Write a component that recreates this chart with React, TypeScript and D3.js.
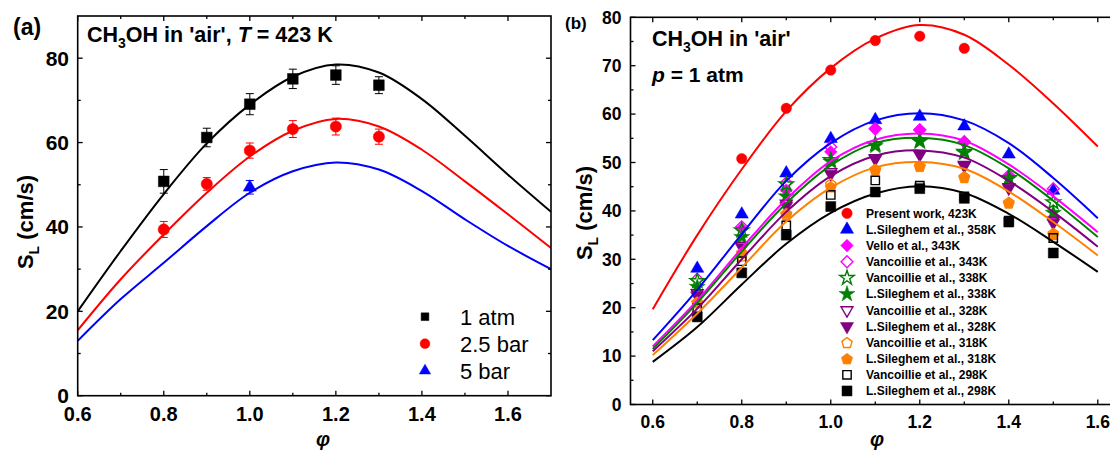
import React from "react";
import * as d3 from "d3";

// ---------- Panel (a) data ----------
const phiA_curve = [0.6, 0.7, 0.8, 0.9, 1.0, 1.1, 1.2, 1.3, 1.4, 1.5, 1.6, 1.7];
const curveA_1atm = [20.0, 34.3, 47.8, 59.8, 69.0, 75.6, 78.5, 76.6, 70.3, 61.6, 52.4, 43.6];
const curveA_25bar = [15.5, 27.6, 38.2, 48.1, 56.7, 62.8, 65.6, 63.8, 58.3, 50.8, 43.0, 35.0];
const curveA_5bar = [13.0, 22.9, 31.5, 40.2, 48.1, 53.2, 55.3, 53.6, 48.5, 41.8, 35.5, 30.0];

const phiA_pts = [0.8, 0.9, 1.0, 1.1, 1.2, 1.3];
const ptsA_1atm = [50.8, 61.2, 69.1, 75.1, 76.0, 73.6];
const errA_1atm = [2.8, 2.2, 2.5, 2.3, 2.2, 2.0];
const ptsA_25bar = [39.4, 50.2, 58.1, 63.2, 63.8, 61.4];
const errA_25bar = [1.9, 1.5, 1.8, 2.0, 2.0, 1.8];
const phiA_5bar = [1.0];
const ptsA_5bar = [49.4];
const errA_5bar = [1.6];
const legendA = ["1 atm", "2.5 bar", "5 bar"];

const xTicksA = [0.6, 0.8, 1.0, 1.2, 1.4, 1.6];
const yTicksA = [0, 20, 40, 60, 80];

// ---------- Panel (b) data ----------
const phiB_curve = [0.6, 0.7, 0.8, 0.9, 1.0, 1.1, 1.2, 1.3, 1.4, 1.5, 1.6];
const curveB_423 = [19.7, 35.0, 48.6, 60.6, 69.5, 75.6, 78.4, 76.4, 70.2, 62.2, 53.3];
const curveB_358 = [13.3, 23.7, 35.2, 46.2, 54.0, 58.7, 60.2, 58.7, 54.0, 46.8, 38.5];
const curveB_343 = [12.0, 21.5, 32.3, 42.4, 50.3, 54.7, 56.0, 54.5, 49.6, 43.0, 35.6];
const curveB_338 = [11.5, 21.0, 31.6, 41.6, 49.4, 54.0, 55.1, 53.6, 48.8, 42.1, 34.6];
const curveB_328 = [11.0, 19.8, 30.0, 39.8, 47.2, 51.4, 52.5, 51.0, 46.2, 39.8, 32.6];
const curveB_318 = [10.2, 18.8, 28.3, 37.8, 44.8, 49.0, 50.1, 48.7, 44.0, 37.7, 30.8];
const curveB_298 = [8.8, 16.0, 24.8, 33.2, 39.6, 43.6, 45.1, 43.7, 39.4, 33.6, 27.4];

const phiB_pts = [0.7, 0.8, 0.9, 1.0, 1.1, 1.2, 1.3, 1.4, 1.5];
const phiB_present = [0.8, 0.9, 1.0, 1.1, 1.2, 1.3];
const ptsB_present423 = [50.8, 61.2, 69.1, 75.2, 76.1, 73.6];
const ptsB_sil358 = [28.1, 39.3, 47.8, 54.9, 58.8, 59.5, 57.5, 51.7, 44.2];
const ptsB_vello343 = [23.3, 36.3, 44.3, 52.2, 56.9, 56.8, 54.2, 47.1, 38.6];
const ptsB_vanc343 = [25.9, 36.7, 45.8, 53.2, 57.0, 56.7, 54.3, 47.3, 44.6];
const ptsB_vanc338 = [25.5, 36.0, 45.5, 50.5, 53.8, 54.5, 52.2, 46.8, 41.8];
const ptsB_sil338 = [24.3, 34.6, 43.0, 50.2, 53.4, 54.3, 52.0, 46.6, 39.6];
const ptsB_vanc328 = [23.0, 32.8, 41.5, 48.0, 50.9, 51.8, 49.5, 44.9, 38.0];
const ptsB_sil328 = [22.4, 32.5, 41.0, 47.6, 50.7, 51.6, 49.3, 44.7, 37.5];
const ptsB_vanc318 = [21.0, 30.7, 39.2, 45.6, 48.6, 49.3, 47.1, 41.8, 35.4];
const ptsB_sil318 = [21.2, 31.4, 39.5, 45.0, 48.5, 49.2, 46.9, 41.6, 35.1];
const ptsB_vanc298 = [19.9, 29.6, 37.0, 43.3, 46.3, 45.2, 43.0, 38.0, 34.4];
const ptsB_sil298 = [18.1, 27.2, 35.0, 40.9, 43.9, 44.6, 42.6, 37.7, 31.3];

const legendB = [
  "Present work, 423K",
  "L.Sileghem et al., 358K",
  "Vello et al., 343K",
  "Vancoillie et al., 343K",
  "Vancoillie et al., 338K",
  "L.Sileghem et al., 338K",
  "Vancoillie et al., 328K",
  "L.Sileghem et al., 328K",
  "Vancoillie et al., 318K",
  "L.Sileghem et al., 318K",
  "Vancoillie et al., 298K",
  "L.Sileghem et al., 298K",
];

const xTicksB = [0.6, 0.8, 1.0, 1.2, 1.4, 1.6];
const yTicksB = [0, 10, 20, 30, 40, 50, 60, 70, 80];

// ---------- styling ----------
const FONT = "Arial, 'Liberation Sans', Helvetica, sans-serif";
const RED = "#ff0000";
const BLUE = "#0000ff";
const MAGENTA = "#ff00ff";
const GREEN = "#008000";
const PURPLE = "#800080";
const ORANGE = "#ff8000";
const BLACK = "#000000";

const symbolPentagon = {
  draw(ctx: any, size: number) {
    const r = Math.sqrt(size / (2.5 * Math.sin((2 * Math.PI) / 5)));
    for (let i = 0; i < 5; i++) {
      const a = -Math.PI / 2 + (i * 2 * Math.PI) / 5;
      const x = r * Math.cos(a);
      const y = r * Math.sin(a) + r * 0.1;
      if (i === 0) ctx.moveTo(x, y);
      else ctx.lineTo(x, y);
    }
    ctx.closePath();
  },
};
const symbolDiamondSq = {
  draw(ctx: any, size: number) {
    const h = Math.sqrt(size / 2);
    ctx.moveTo(0, -h);
    ctx.lineTo(h, 0);
    ctx.lineTo(0, h);
    ctx.lineTo(-h, 0);
    ctx.closePath();
  },
};
const symbolTriDown = {
  draw(ctx: any, size: number) {
    const s = Math.sqrt((size * 4) / Math.sqrt(3));
    const hgt = (s * Math.sqrt(3)) / 2;
    ctx.moveTo(-s / 2, -hgt / 3);
    ctx.lineTo(s / 2, -hgt / 3);
    ctx.lineTo(0, (2 * hgt) / 3);
    ctx.closePath();
  },
};
const symbolTriUp = {
  draw(ctx: any, size: number) {
    const s = Math.sqrt((size * 4) / Math.sqrt(3));
    const hgt = (s * Math.sqrt(3)) / 2;
    ctx.moveTo(-s / 2, hgt / 3);
    ctx.lineTo(s / 2, hgt / 3);
    ctx.lineTo(0, (-2 * hgt) / 3);
    ctx.closePath();
  },
};

function sym(type: any, size: number) {
  return d3.symbol().type(type).size(size)() as string;
}

type Marker = { type: any; size: number; color: string; filled: boolean };

function MarkerPath({ m, x, y }: { m: Marker; x: number; y: number }) {
  return (
    <path
      d={sym(m.type, m.size)}
      transform={`translate(${x},${y})`}
      fill={m.filled ? m.color : "none"}
      stroke={m.color}
      strokeWidth={m.filled ? 0.5 : 1.4}
    />
  );
}

// ---------- Panel A ----------
function PanelA() {
  const x = d3.scaleLinear().domain([0.6, 1.7]).range([77.7, 551]);
  const y = d3.scaleLinear().domain([0, 90]).range([395.7, 16]);
  const [x0, x1] = x.range();
  const [y0, y1] = y.range();
  const line = d3
    .line<number>()
    .x((_, i) => x(phiA_curve[i]))
    .y((d) => y(d))
    .curve(d3.curveCatmullRom.alpha(0.5));

  const xMinor = d3.range(0.7, 1.7, 0.2);
  const yMinor = d3.range(10, 90, 20);
  const tickMaj = 5;
  const tickMin = 3;

  const series = [
    { phi: phiA_pts, v: ptsA_1atm, e: errA_1atm, m: { type: d3.symbolSquare, size: 115, color: BLACK, filled: true } },
    { phi: phiA_pts, v: ptsA_25bar, e: errA_25bar, m: { type: d3.symbolCircle, size: 100, color: RED, filled: true } },
    { phi: phiA_5bar, v: ptsA_5bar, e: errA_5bar, m: { type: symbolTriUp, size: 75, color: BLUE, filled: true } },
  ];
  const legM: Marker[] = [
    { type: d3.symbolSquare, size: 60, color: BLACK, filled: true },
    { type: d3.symbolCircle, size: 75, color: RED, filled: true },
    { type: symbolTriUp, size: 55, color: BLUE, filled: true },
  ];

  return (
    <g>
      <defs>
        <clipPath id="clipA">
          <rect x={x0} y={y1} width={x1 - x0} height={y0 - y1} />
        </clipPath>
      </defs>
      <g clipPath="url(#clipA)">
        <path d={line(curveA_1atm) as string} fill="none" stroke={BLACK} strokeWidth={2} />
        <path d={line(curveA_25bar) as string} fill="none" stroke={RED} strokeWidth={2} />
        <path d={line(curveA_5bar) as string} fill="none" stroke={BLUE} strokeWidth={2} />
      </g>
      {series.map((s, si) => (
        <g key={si}>
          {s.phi.map((p, i) => (
            <g key={i}>
              <line x1={x(p)} x2={x(p)} y1={y(s.v[i] - s.e[i])} y2={y(s.v[i] + s.e[i])} stroke={s.m.color} strokeWidth={1} />
              <line x1={x(p) - 4} x2={x(p) + 4} y1={y(s.v[i] - s.e[i])} y2={y(s.v[i] - s.e[i])} stroke={s.m.color} strokeWidth={1} />
              <line x1={x(p) - 4} x2={x(p) + 4} y1={y(s.v[i] + s.e[i])} y2={y(s.v[i] + s.e[i])} stroke={s.m.color} strokeWidth={1} />
              <MarkerPath m={s.m as Marker} x={x(p)} y={y(s.v[i])} />
            </g>
          ))}
        </g>
      ))}
      <rect x={x0} y={y1} width={x1 - x0} height={y0 - y1} fill="none" stroke={BLACK} strokeWidth={1.6} />
      {xTicksA.map((t) => (
        <g key={"xt" + t}>
          <line x1={x(t)} x2={x(t)} y1={y0} y2={y0 - tickMaj} stroke={BLACK} strokeWidth={1.3} />
          <line x1={x(t)} x2={x(t)} y1={y1} y2={y1 + tickMaj} stroke={BLACK} strokeWidth={1.3} />
          <text x={x(t)} y={421} textAnchor="middle" fontFamily={FONT} fontWeight="bold" fontSize={20}>
            {t.toFixed(1)}
          </text>
        </g>
      ))}
      {xMinor.map((t) => (
        <g key={"xm" + t}>
          <line x1={x(t)} x2={x(t)} y1={y0} y2={y0 - tickMin} stroke={BLACK} strokeWidth={1.3} />
          <line x1={x(t)} x2={x(t)} y1={y1} y2={y1 + tickMin} stroke={BLACK} strokeWidth={1.3} />
        </g>
      ))}
      {yTicksA.map((t) => (
        <g key={"yt" + t}>
          <line x1={x0} x2={x0 + tickMaj} y1={y(t)} y2={y(t)} stroke={BLACK} strokeWidth={1.3} />
          <line x1={x1} x2={x1 - tickMaj} y1={y(t)} y2={y(t)} stroke={BLACK} strokeWidth={1.3} />
          <text x={69} y={y(t) + 7.5} textAnchor="end" fontFamily={FONT} fontWeight="bold" fontSize={21}>
            {t}
          </text>
        </g>
      ))}
      {yMinor.map((t) => (
        <g key={"ym" + t}>
          <line x1={x0} x2={x0 + tickMin} y1={y(t)} y2={y(t)} stroke={BLACK} strokeWidth={1.3} />
          <line x1={x1} x2={x1 - tickMin} y1={y(t)} y2={y(t)} stroke={BLACK} strokeWidth={1.3} />
        </g>
      ))}
      <text x={323} y={446} textAnchor="middle" fontFamily={FONT} fontStyle="italic" fontWeight="bold" fontSize={20}>
        φ
      </text>
      <text transform="translate(33,222) rotate(-90)" textAnchor="middle" fontFamily={FONT} fontWeight="bold" fontSize={22}>
        S<tspan fontSize={14} dy={6}>L</tspan>
        <tspan dy={-6}> (cm/s)</tspan>
      </text>
      <text x={13} y={35} fontFamily={FONT} fontWeight="bold" fontSize={23}>(a)</text>
      <text x={87} y={42} fontFamily={FONT} fontWeight="bold" fontSize={21.5}>
        CH<tspan fontSize={14} dy={6}>3</tspan>
        <tspan dy={-6}>OH in 'air', </tspan>
        <tspan fontStyle="italic">T</tspan>
        <tspan> = 423 K</tspan>
      </text>
      {legendA.map((lab, i) => (
        <g key={lab}>
          <MarkerPath m={legM[i]} x={425} y={316.7 + i * 27} />
          <text x={460} y={316.7 + i * 27 + 8} fontFamily={FONT} fontSize={22}>
            {lab}
          </text>
        </g>
      ))}
    </g>
  );
}

// ---------- Panel B ----------
function PanelB() {
  const x = d3.scaleLinear().domain([0.55, 1.7]).range([630.5, 1142.3]);
  const y = d3.scaleLinear().domain([0, 80]).range([404.5, 17.3]);
  const [x0, x1] = x.range();
  const [y0, y1] = y.range();
  const line = d3
    .line<number>()
    .x((_, i) => x(phiB_curve[i]))
    .y((d) => y(d))
    .curve(d3.curveCatmullRom.alpha(0.5));

  const xMinor = d3.range(0.7, 1.7, 0.2);
  const yMinor = d3.range(5, 80, 10);
  const tickMaj = 5;
  const tickMin = 3;

  const curves = [
    { v: curveB_423, c: RED },
    { v: curveB_358, c: BLUE },
    { v: curveB_343, c: MAGENTA },
    { v: curveB_338, c: GREEN },
    { v: curveB_328, c: PURPLE },
    { v: curveB_318, c: ORANGE },
    { v: curveB_298, c: BLACK },
  ];

  const markers: Marker[] = [
    { type: d3.symbolCircle, size: 85, color: RED, filled: true },
    { type: symbolTriUp, size: 75, color: BLUE, filled: true },
    { type: symbolDiamondSq, size: 80, color: MAGENTA, filled: true },
    { type: symbolDiamondSq, size: 70, color: MAGENTA, filled: false },
    { type: d3.symbolStar, size: 65, color: GREEN, filled: false },
    { type: d3.symbolStar, size: 80, color: GREEN, filled: true },
    { type: symbolTriDown, size: 62, color: PURPLE, filled: false },
    { type: symbolTriDown, size: 75, color: PURPLE, filled: true },
    { type: symbolPentagon, size: 70, color: ORANGE, filled: false },
    { type: symbolPentagon, size: 85, color: ORANGE, filled: true },
    { type: d3.symbolSquare, size: 70, color: BLACK, filled: false },
    { type: d3.symbolSquare, size: 100, color: BLACK, filled: true },
  ];

  const data = [
    { phi: phiB_present, v: ptsB_present423 },
    { phi: phiB_pts, v: ptsB_sil358 },
    { phi: phiB_pts, v: ptsB_vello343 },
    { phi: phiB_pts, v: ptsB_vanc343 },
    { phi: phiB_pts, v: ptsB_vanc338 },
    { phi: phiB_pts, v: ptsB_sil338 },
    { phi: phiB_pts, v: ptsB_vanc328 },
    { phi: phiB_pts, v: ptsB_sil328 },
    { phi: phiB_pts, v: ptsB_vanc318 },
    { phi: phiB_pts, v: ptsB_sil318 },
    { phi: phiB_pts, v: ptsB_vanc298 },
    { phi: phiB_pts, v: ptsB_sil298 },
  ];

  return (
    <g>
      {data.map((s, si) => (
        <g key={si}>
          {s.phi.map((p, i) => (
            <MarkerPath key={i} m={markers[si]} x={x(p)} y={y(s.v[i])} />
          ))}
        </g>
      ))}
      {curves.map((c, i) => (
        <path key={i} d={line(c.v) as string} fill="none" stroke={c.c} strokeWidth={2} />
      ))}
      <rect x={x0} y={y1} width={x1 - x0} height={y0 - y1} fill="none" stroke={BLACK} strokeWidth={1.6} />
      {xTicksB.map((t) => (
        <g key={"xt" + t}>
          <line x1={x(t)} x2={x(t)} y1={y0} y2={y0 - tickMaj} stroke={BLACK} strokeWidth={1.3} />
          <line x1={x(t)} x2={x(t)} y1={y1} y2={y1 + tickMaj} stroke={BLACK} strokeWidth={1.3} />
          <text x={x(t)} y={428} textAnchor="middle" fontFamily={FONT} fontWeight="bold" fontSize={17.5}>
            {t.toFixed(1)}
          </text>
        </g>
      ))}
      {xMinor.map((t) => (
        <g key={"xm" + t}>
          <line x1={x(t)} x2={x(t)} y1={y0} y2={y0 - tickMin} stroke={BLACK} strokeWidth={1.3} />
          <line x1={x(t)} x2={x(t)} y1={y1} y2={y1 + tickMin} stroke={BLACK} strokeWidth={1.3} />
        </g>
      ))}
      {yTicksB.map((t) => (
        <g key={"yt" + t}>
          <line x1={x0} x2={x0 + tickMaj} y1={y(t)} y2={y(t)} stroke={BLACK} strokeWidth={1.3} />
          <text x={621.5} y={y(t) + 6.2} textAnchor="end" fontFamily={FONT} fontWeight="bold" fontSize={17.5}>
            {t}
          </text>
        </g>
      ))}
      {yMinor.map((t) => (
        <g key={"ym" + t}>
          <line x1={x0} x2={x0 + tickMin} y1={y(t)} y2={y(t)} stroke={BLACK} strokeWidth={1.3} />
        </g>
      ))}
      <text x={877} y={446} textAnchor="middle" fontFamily={FONT} fontStyle="italic" fontWeight="bold" fontSize={20}>
        φ
      </text>
      <text transform="translate(592,213) rotate(-90)" textAnchor="middle" fontFamily={FONT} fontWeight="bold" fontSize={22}>
        S<tspan fontSize={14} dy={6}>L</tspan>
        <tspan dy={-6}> (cm/s)</tspan>
      </text>
      <text x={565} y={29} fontFamily={FONT} fontWeight="bold" fontSize={17}>(b)</text>
      <text x={652} y={46} fontFamily={FONT} fontWeight="bold" fontSize={21.5}>
        CH<tspan fontSize={14} dy={6}>3</tspan>
        <tspan dy={-6}>OH in 'air'</tspan>
      </text>
      <text x={652} y={82} fontFamily={FONT} fontWeight="bold" fontSize={21}>
        <tspan fontStyle="italic">p</tspan>
        <tspan> = 1 atm</tspan>
      </text>
      {legendB.map((lab, i) => (
        <g key={lab}>
          <MarkerPath m={markers[i]} x={847} y={213.3 + i * 16.15} />
          <text x={866} y={213.3 + i * 16.15 + 4.3} fontFamily={FONT} fontWeight="bold" fontSize={12}>
            {lab}
          </text>
        </g>
      ))}
    </g>
  );
}

export default function App() {
  return (
    <svg
      width={1110}
      height={452}
      viewBox="0 0 1110 452"
      style={{ position: "absolute", left: 0, top: 0, display: "block", background: "#fff" }}
    >
      <rect x={0} y={0} width={1110} height={452} fill="#fff" />
      <PanelA />
      <PanelB />
    </svg>
  );
}
